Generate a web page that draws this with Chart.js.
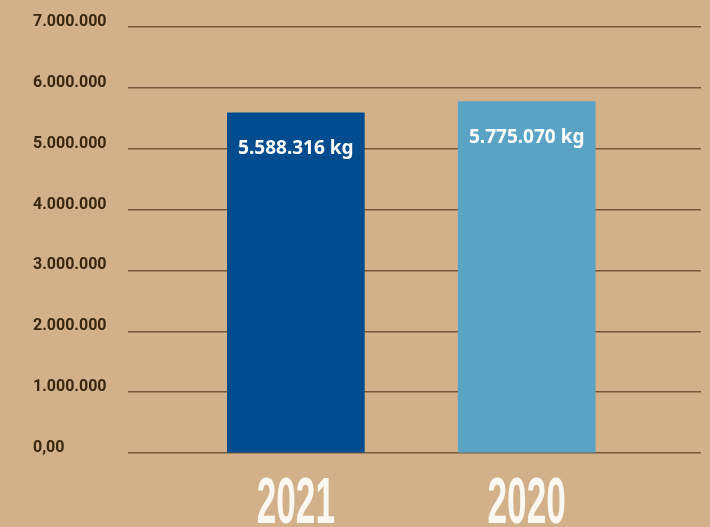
<!DOCTYPE html>
<html lang="de">

<head>
    <meta charset="UTF-8">
    <script src="https://cdn.jsdelivr.net/npm/chart.js@4/dist/chart.umd.min.js"></script>
    <title>Menge</title>
    <style>
        html, body { margin: 0; padding: 0; background: #d1b08a; }
        .container { width: 710px; height: 527px; }
    </style>
</head>

<body>
    <div class="container">
        <canvas id="myChart" width="710" height="527"></canvas>
    </div>

    <script>
        const years = ['2021', '2020'];
        const amounts = [5588316, 5775070];
        const barColors = ['#004c8e', '#5ba3c5'];
        const yTicks = [0, 1000000, 2000000, 3000000, 4000000, 5000000, 6000000, 7000000];

        const dots = n => String(n).replace(/\B(?=(\d{3})+(?!\d))/g, '.');

        // kg labels inside the bars
        const valueLabels = {
            id: 'valueLabels',
            afterDatasetsDraw(chart) {
                const ctx = chart.ctx;
                const meta = chart.getDatasetMeta(0);
                ctx.save();
                ctx.fillStyle = '#ffffff';
                ctx.font = 'bold 19px "Noto Sans"';
                ctx.textAlign = 'center';
                ctx.textBaseline = 'middle';
                meta.data.forEach((bar, i) => {
                    ctx.fillText(dots(amounts[i]) + ' kg', bar.x, bar.y + 36);
                });
                ctx.restore();
            }
        };

        // big condensed year labels under the bars
        const yearLabels = {
            id: 'yearLabels',
            afterDraw(chart) {
                const ctx = chart.ctx;
                const x = chart.scales.x;
                ctx.save();
                ctx.fillStyle = '#fbf8f2';
                ctx.font = 'bold 64px "Liberation Sans"';
                ctx.textAlign = 'center';
                ctx.textBaseline = 'alphabetic';
                years.forEach((y, i) => {
                    const px = x.getPixelForValue(i);
                    ctx.save();
                    ctx.translate(px, chart.chartArea.bottom + 70);
                    ctx.scale(0.55, 1);
                    ctx.fillText(y, 0, 0);
                    ctx.restore();
                });
                ctx.restore();
            }
        };

        const ctx = document.getElementById('myChart').getContext('2d');
        const myChart = new Chart(ctx, {
            type: 'bar',
            data: {
                datasets: [{
                    data: amounts.map((v, i) => ({ x: i, y: v })),
                    backgroundColor: barColors,
                    borderWidth: 0,
                    barThickness: 137
                }]
            },
            options: {
                responsive: false,
                animation: false,
                layout: { padding: { top: 27, right: 9, bottom: 74, left: 33 } },
                plugins: {
                    legend: { display: false },
                    tooltip: { enabled: false }
                },
                scales: {
                    x: {
                        type: 'linear',
                        offset: false,
                        min: -0.727,
                        max: 1.755,
                        afterFit(scale) { scale.height = 0; },
                        grid: { display: false, drawTicks: false },
                        border: { display: false },
                        ticks: { display: false }
                    },
                    y: {
                        min: 0,
                        max: 7000000,
                        afterFit(scale) {
                            scale.width = 95;
                            scale.paddingTop = 0;
                            scale.paddingBottom = 0;
                        },
                        afterBuildTicks(scale) { scale.ticks = yTicks.map(v => ({ value: v })); },
                        grid: { color: '#76573a', lineWidth: 1.5, drawTicks: false },
                        border: { display: false },
                        ticks: {
                            padding: 24,
                            crossAlign: 'far',
                            labelOffset: -5,
                            color: '#38260e',
                            font: { family: 'Roboto', weight: 'bold', size: 16 },
                            callback: v => v === 0 ? '0,00' : dots(v)
                        }
                    }
                }
            },
            plugins: [valueLabels, yearLabels]
        });
    </script>
</body>

</html>
